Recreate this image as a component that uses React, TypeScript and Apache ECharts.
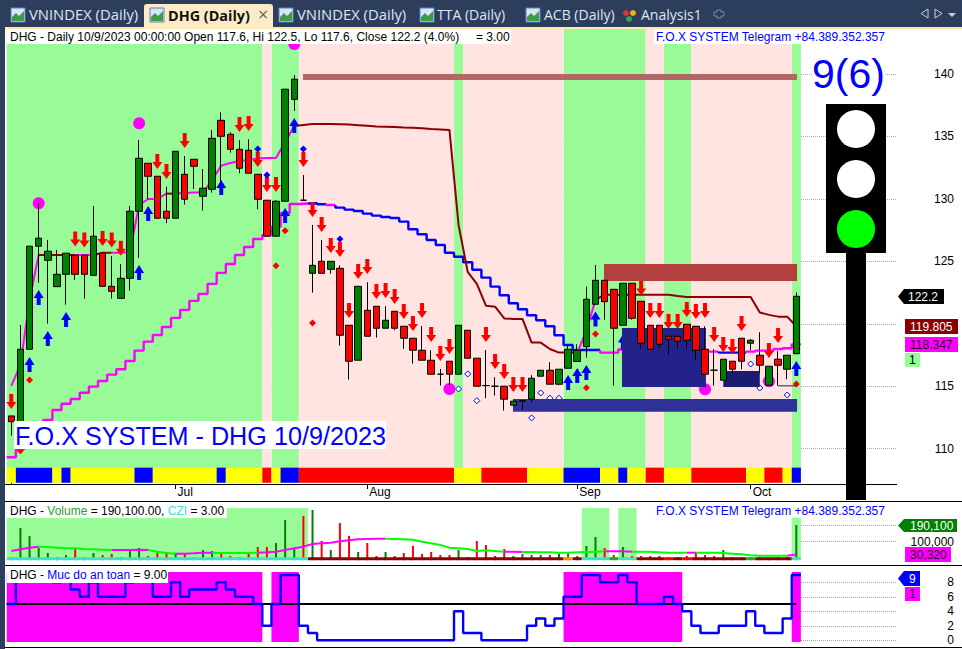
import React, { useEffect, useRef } from "react";
import * as echarts from "echarts";

// ---------- candles (bar index 0..86) ----------
const opens = [112.62,111.34,117.96,126.21,125.08,122.97,123.96,125.49,125.49,123.88,125.65,123.0,122.04,123.64,129.01,132.85,131.81,129.01,128.45,131.97,133.17,130.21,130.77,136.29,135.17,133.97,133.89,131.97,129.89,127.01,129.81,137.97,129.89,124.04,125.0,124.36,124.44,119.88,117.08,121.08,121.4,119.64,121.0,119.8,118.84,117.88,117.08,115.96,117.0,115.96,119.48,117.24,115.05,115.0,115.0,113.48,113.8,113.96,115.8,116.28,115.16,116.44,116.98,118.17,121.56,123.48,122.76,119.88,123.24,121.8,119.88,119.88,119.0,119.0,119.96,119.8,117.96,116.28,115.48,117.0,118.84,118.44,117.48,115.08,117.16,116.36,117.6];
const closes = [112.16,117.96,126.21,126.85,125.81,123.96,125.65,123.96,123.96,127.01,123.0,122.6,123.64,129.01,133.25,131.81,128.45,128.45,133.81,129.97,132.61,130.85,134.85,135.01,133.97,132.45,132.05,129.97,127.01,129.81,138.78,139.58,129.89,124.68,124.04,125.0,119.08,117.0,123.0,119.0,119.64,120.28,119.64,118.84,117.88,117.08,115.96,115.96,115.96,119.88,117.24,115.0,115.05,115.0,113.96,113.8,113.84,115.64,116.28,115.16,116.36,117.96,117.88,121.96,123.48,121.77,119.64,123.24,120.44,118.44,117.96,118.36,118.76,118.6,118.68,117.88,115.96,116.28,117.16,116.36,117.0,118.68,116.68,116.6,116.68,117.48,122.2];
const lows = [111.04,111.2,117.96,123.29,120.01,122.97,121.53,123.51,122.01,123.88,123.0,122.01,122.04,122.65,125.27,129.97,128.45,128.05,128.45,129.54,130.79,129.06,130.5,131.33,133.7,132.05,132.05,129.17,127.01,127.01,129.81,137.04,129.89,122.49,124.04,124.01,118.25,115.53,117.08,119.0,118.89,119.64,119.48,118.0,116.81,117.08,115.96,115.05,115.1,115.96,117.24,115.0,114.04,114.25,113.05,113.48,113.1,113.72,115.8,115.16,115.08,116.44,116.98,117.29,121.56,120.31,115.05,119.88,120.33,118.0,117.96,118.04,117.53,118.04,118.04,117.05,115.96,115.05,115.48,116.04,116.36,117.88,116.04,115.08,115.05,115.56,117.6];
const highs = [112.62,119.9,126.21,129.67,126.71,125.91,125.65,125.49,125.49,129.43,125.65,125.43,124.79,129.43,134.72,132.85,131.81,130.98,133.81,133.43,133.17,132.39,135.52,136.93,135.33,134.69,134.77,131.97,129.89,129.89,138.78,139.92,131.91,127.91,126.71,125.0,124.68,119.88,123.0,123.32,121.4,121.4,121.0,119.8,118.84,119.82,117.88,116.38,117.0,119.88,119.48,117.24,117.9,115.72,115.0,113.8,113.84,115.88,116.28,116.92,116.36,118.3,118.36,122.97,124.71,123.48,122.76,123.24,123.24,121.8,119.88,119.88,119.0,119.0,119.96,119.8,119.8,117.96,117.16,117.0,118.84,118.78,119.32,116.6,117.8,117.48,122.5];

// ---------- price-pane lines ----------
const stopLine = [109.31,109.98,110.94,111.66,112.3,113.1,113.6,113.98,114.48,114.97,115.42,115.93,116.36,117.02,117.85,118.57,119.1,119.74,120.47,121.11,121.83,122.39,123.19,124.07,124.79,125.51,126.15,126.79,127.11,127.77,128.87,129.59,129.63,129.65,129.57,129.51,129.3,129.14,129.03,128.82,128.66,128.55,128.47,128.18,127.57,127.17,126.71,126.31,125.69,125.37,124.92,124.33,123.69,122.97,122.28,121.64,121.16,120.68,120.28,119.8,119.08,118.3,117.9,117.9,117.9,117.69,117.69,117.94,118.0,118.0,117.95,117.9,117.85,117.8,117.8,117.75,117.77,117.77,117.69,117.69,117.69,117.77,117.85,117.85,117.98,118.04,118.347];
const stopRuns: [number, number, string][] = [[0,32,"#ff00ff"],[33,34,"#0000ff"],[35,35,"#ff00ff"],[36,64,"#0000ff"],[65,77,"#ff00ff"],[78,80,"#0000ff"],[81,86,"#ff00ff"]];
const trendLine = [115.02,116.7,121.91,125.51,125.51,125.51,125.51,125.51,125.51,125.51,125.69,125.69,125.69,125.75,129.51,129.99,129.99,130.42,130.42,130.47,130.5,130.5,131.51,132.66,132.87,133.03,133.11,133.23,133.27,133.27,134.56,135.84,135.92,136.0,136.0,136.0,135.98,135.95,135.9,135.85,135.8,135.78,135.75,135.72,135.7,135.65,135.6,135.56,135.52,127.91,124.15,123.19,121.45,121.37,120.43,120.39,120.39,118.49,118.49,117.98,117.69,117.69,117.69,119.42,121.91,122.33,122.33,122.33,122.33,122.33,122.33,122.33,122.33,122.23,122.15,122.15,122.15,122.15,122.15,122.15,122.15,122.15,120.9,120.71,120.57,120.57,119.805];
const trendRuns: [number, number, string][] = [[0,3,"#ff00ff"],[3,7,"#8b0000"],[7,9,"#ff00ff"],[9,11,"#8b0000"],[11,17,"#ff00ff"],[17,18,"#8b0000"],[18,31,"#ff00ff"],[31,62,"#8b0000"],[62,64,"#ff00ff"],[64,86,"#8b0000"]];

// ---------- signals: [bar, price] ----------
const sellArrows = [[0,113.78],[7,126.79],[8,126.71],[10,126.83],[11,126.71],[12,126.05],[16,132.99],[17,132.19],[19,134.68],[25,135.96],[26,136.04],[27,133.15],[28,131.15],[29,131.15],[32,133.15],[33,129.15],[34,127.95],[35,126.27],[36,125.95],[37,121.07],[38,124.19],[39,124.59],[40,122.59],[41,122.67],[42,122.19],[43,120.99],[44,120.02],[45,121.07],[46,119.14],[47,117.62],[48,118.18],[52,119.14],[53,116.98],[54,116.18],[55,115.14],[56,115.14],[69,122.87],[70,121.07],[71,121.07],[72,120.18],[73,120.18],[74,121.15],[75,120.99],[76,121.07],[77,119.14],[78,118.34],[79,118.18],[80,120.02],[83,117.86],[84,119.06]];
const buyArrows = [[2,116.74],[3,122.11],[4,118.82],[6,120.34],[14,124.11],[15,128.83],[23,130.91],[30,128.67],[31,135.88],[61,115.3],[62,115.86],[63,116.1],[64,120.38],[67,118.54],[86,116.42]];
const redDiamonds = [[1,109.84],[2,115.5],[29,124.65],[30,127.45],[33,120.07],[63,114.88],[64,119.18],[86,115.18]];
const blueDiamonds = [[27,133.99],[28,131.91],[32,133.99],[36,126.79]];
const hollowDiamonds = [[49,114.78],[50,115.98],[51,113.84],[57,112.46],[58,114.46],[59,114.04],[60,114.04],[81,116.78],[82,114.86],[85,114.3]];
const magentaDots = [[3,129.65],[14,136.05],[31,142.4],[48,114.78],[76,114.76],[83,115.4]];

// ---------- background runs: [fromBar, toBar) ----------
const greenRuns = [[0,28],[29,32],[49,50],[61,70],[72,75],[86,87]];
const pinkRuns = [[28,29],[32,49],[50,61],[70,72],[75,86]];
const stripRuns: [number, number, string][] = [[0,1,"#ffff00"],[1,5,"#0000ff"],[5,6,"#ffff00"],[6,7,"#0000ff"],[7,14,"#ffff00"],[14,16,"#0000ff"],[16,23,"#ffff00"],[23,24,"#0000ff"],[24,28,"#ffff00"],[28,29,"#ff0000"],[29,30,"#ffff00"],[30,32,"#0000ff"],[32,49,"#ff0000"],[49,52,"#ffff00"],[52,57,"#ff0000"],[57,61,"#ffff00"],[61,65,"#0000ff"],[65,67,"#ffff00"],[67,68,"#0000ff"],[68,70,"#ffff00"],[70,72,"#ff0000"],[72,75,"#ffff00"],[75,81,"#ff0000"],[81,83,"#ffff00"],[83,85,"#ff0000"],[85,86,"#ffff00"],[86,87,"#0000ff"]];
// support / resistance boxes: [fromX, toX, lowPrice, highPrice, colour]
const levelBoxes: [number, number, number, number, string][] = [[31.96,86.08,139.52,140,"#b36666"],[64.93,86.08,123.43,124.79,"#b33f3f"],[66.9,76.1,114.94,119.66,"#22228a"],[78,82,114.94,116.22,"#1b1b72"],[54.96,86.08,112.96,113.98,"#303099"],[84,86.08,114.99,115.07,"#1b1b72"]];

// ---------- volume pane (thousands of shares) ----------
const volumes = [17.3,174,130.8,66,38.9,17.3,28.1,60.5,17.3,38.9,28.1,33.5,17.3,49.7,66,22.7,38.9,44.3,38.9,33.5,17.3,55.1,49.7,38.9,22.7,17.3,33.5,71.4,71.4,93,217.3,60.5,239,271.4,103.8,55.1,201,130.8,44.3,93,22.7,44.3,22.7,38.9,76.8,33.5,44.3,28.1,28.1,55.1,17.3,103.8,82.2,22.7,60.5,22.7,33.5,28.1,28.1,28.1,33.5,35.3,22.7,76.8,125.4,66,28.1,71.4,22.7,22.7,22.7,22.7,17.3,17.3,22.7,38.9,28.1,22.7,55.1,17.3,17.3,15.5,17.3,13.7,17.3,17.3,190.1];
const volumeAvg = [49.7,58.7,67.8,73.2,71.4,67.8,64.2,64.2,60.5,58.7,56.9,55.1,55.1,55.1,56.9,55.1,46.1,38.9,35.3,35.3,37.1,40.7,40.7,38.9,38.9,38.9,38.9,40.7,42.5,46.1,55.1,64.2,73.2,87.6,91.2,94.8,102,107.4,112.8,114.6,116.4,116.4,114.6,112.8,111,100.2,91.2,82.2,67.8,64.2,60.5,49.7,53.3,49.7,46.1,46.1,44.3,44.3,42.5,42.5,40.7,40.7,42.5,44.3,46.1,47.9,47.9,47.9,46.1,46.1,46.1,42.5,40.7,40.7,40.7,40.7,40.7,40.7,38.9,35.3,31.7,26.3,24.5,24.5,24.5,24.5,30.32];
const volumeAvgRuns: [number, number, string][] = [[0,3,"#ff00ff"],[3,11,"#00ff00"],[11,15,"#ff00ff"],[15,18,"#00ff00"],[18,22,"#ff00ff"],[22,27,"#00ff00"],[27,41,"#ff00ff"],[41,54,"#00ff00"],[54,56,"#ff00ff"],[56,65,"#00ff00"],[65,68,"#ff00ff"],[68,74,"#00ff00"],[74,75,"#ff00ff"],[75,85,"#00ff00"],[85,86,"#ff00ff"]];
const volumeGreenRuns = [[0,33],[63,66],[67,69]];
const volumeStripRuns: [number, number, string][] = [[0,33,"#40e0d0"],[33,61,"#8b0000"],[61,62,"#ff8c00"],[62,63,"#8b0000"],[63,66,"#40e0d0"],[66,67,"#22aa22"],[67,69,"#40e0d0"],[69,72,"#8b0000"],[72,73,"#ff0000"],[73,74,"#8b0000"],[74,75,"#ff0000"],[75,81,"#8b0000"],[81,82,"#22aa22"],[82,86,"#8b0000"],[86,87,"#40e0d0"]];

// ---------- safety pane ----------
const safety = [5,9,9,9,9,8,9,7,6,8,6,6,6,8,9,9,6,6,8,6,7,7,7,8,7,6,6,5,2,5,9,9,2,1,0,0,0,0,0,0,0,0,0,0,0,0,0,0,0,4,1,1,0,0,0,0,0,2,3,2,3,6,6,9,9,8,8,9,8,5,5,5,6,5,4,2,1,1,2,2,2,4,2,1,1,3,9];
const safetyRuns = [[0,28],[29,32],[61,74],[86,87]];
const safetyLevel = 5;

// ---------- axes ----------
const monthTicks = [18, 39, 62, 81];
const monthNames = ["Jul", "Aug", "Sep", "Oct"];
const priceTicks = [110, 115, 120, 125, 130, 135, 140];
const priceLabels = [110, 115, 125, 130, 135, 140];
const volumeTicks = [100000, 190100];
const safetyTicks = [0, 2, 4, 6, 8];

const FONT = '"Liberation Sans", Arial, sans-serif';
const TAB_FONT = '"Open Sans", "Noto Sans", sans-serif';
const X_MIN = -0.471;
const X_MAX = 97.03;

const bands = (name: string, idx: number, z: number, rows: any[]) => ({
  type: "custom",
  name,
  xAxisIndex: idx,
  yAxisIndex: idx,
  z,
  clip: false,
  silent: true,
  renderItem: (params: any, api: any) => {
    const a = api.coord([api.value(0), api.value(3)]);
    const b = api.coord([api.value(1), api.value(2)]);
    return {
      type: "rect",
      shape: { x: a[0], y: a[1], width: b[0] - a[0], height: b[1] - a[1] },
      style: { fill: rows[params.dataIndex].fill },
      silent: true,
    };
  },
  encode: { x: [0, 1], y: [2, 3] },
  data: rows.map((r) => r.value),
});
const row = (from: number, to: number, lo: number, hi: number, fill: string) => ({
  value: [from - 0.5, to - 0.5, lo, hi],
  fill,
});
const rawRow = (from: number, to: number, lo: number, hi: number, fill: string) => ({
  value: [from, to, lo, hi],
  fill,
});
const colored = (name: string, values: number[], runs: [number, number, string][], idx: number, width: number, z: number) =>
  runs.map(([s, e, c]) => ({
    type: "line",
    name,
    xAxisIndex: idx,
    yAxisIndex: idx,
    z,
    showSymbol: false,
    symbol: "none",
    silent: true,
    lineStyle: { color: c, width },
    data: values.slice(s, e + 1).map((v, i) => [s + i, v]),
  }));
const stepped = (name: string, values: number[], runs: [number, number, string][], idx: number, z: number) =>
  runs.map(([s, e, c]) => {
    const pts: number[][] = [[s - 0.5, s > 0 ? values[s - 1] : values[s]]];
    for (let k = s; k <= e; k++) pts.push([k + 0.5, values[k]]);
    return {
      type: "line",
      name,
      step: "start",
      xAxisIndex: idx,
      yAxisIndex: idx,
      z,
      showSymbol: false,
      symbol: "none",
      silent: true,
      lineStyle: { color: c, width: 2.4 },
      data: pts,
    };
  });
const markers = (name: string, data: number[][], symbol: string, size: any, color: string, z: number, border?: string) => ({
  type: "scatter",
  name,
  xAxisIndex: 0,
  yAxisIndex: 0,
  z,
  silent: true,
  symbol,
  symbolSize: size,
  itemStyle: { color, opacity: 1, borderColor: border ?? color, borderWidth: border ? 1 : 0 },
  data,
});

const ARROW_DOWN = "path://M3 0H7V8H10L5 15L0 8H3Z";
const ARROW_UP = "path://M5 0L10 8H7V15H3V8H0Z";

const txt = (text: string, x: number, y: number, fill: string, extra: any = {}) => ({
  type: "text",
  z: 100,
  x,
  y,
  style: { text, fill, font: `12px ${FONT}`, textVerticalAlign: "middle", ...extra },
});
const box = (x: number, y: number, w: number, h: number, fill: string, z = 99, r?: any) => ({
  type: "rect",
  z,
  shape: { x, y, width: w, height: h, ...(r ? { r } : {}) },
  style: { fill },
});
const hline = (x1: number, x2: number, y: number, w = 1, color = "#000") => ({
  type: "line",
  z: 98,
  shape: { x1, y1: y, x2, y2: y },
  style: { stroke: color, lineWidth: w },
});
const tagArrow = (x: number, top: number, right: number, bottom: number, tip: number, fill: string) => ({
  type: "polygon",
  z: 99,
  shape: { points: [[tip, (top + bottom) / 2], [x, top], [right, top], [right, bottom], [x, bottom]] },
  style: { fill },
});
const chartIcon = (x: number) => [
  box(x, 8, 14, 14, "#d8e6f8", 99),
  { type: "polygon", z: 100, shape: { points: [[x + 1, 21], [x + 1, 17], [x + 5, 13], [x + 8, 16], [x + 13, 11], [x + 13, 21]] }, style: { fill: "#3f9a4a" } },
  { type: "rect", z: 100, shape: { x, y: 8, width: 14, height: 14 }, style: { fill: "none", stroke: "#5a7fb5", lineWidth: 1 } },
];

const tabText = (t: string, x: number, size = 14) => txt(t, x, 14, "#dfe6f2", { font: `${size}px ${TAB_FONT}` });
const foxNote = "F.O.X SYSTEM Telegram +84.389.352.357";

const graphics: any[] = [
  // window chrome
  box(0, 0, 962, 27, "#2d3e5c", 90),
  box(0, 27, 962, 2, "#ffe8a8", 90),
  box(0, 27, 5, 622, "#2d3e5c", 90),
  box(144, 4, 129, 24, "#fdebc8", 91, [3, 3, 0, 0]),
  ...chartIcon(11),
  tabText("VNINDEX (Daily)", 29, 14.8),
  ...chartIcon(150),
  txt("DHG (Daily)", 168, 15, "#111111", { font: `bold 14.4px ${TAB_FONT}` }),
  txt("×", 258, 14, "#666666", { font: `18px ${TAB_FONT}` }),
  ...chartIcon(279),
  tabText("VNINDEX (Daily)", 297, 14.8),
  ...chartIcon(420),
  tabText("TTA (Daily)", 437),
  ...chartIcon(526),
  tabText("ACB (Daily)", 544),
  { type: "circle", z: 100, shape: { cx: 626, cy: 13, r: 3 }, style: { fill: "#e03030" } },
  { type: "circle", z: 100, shape: { cx: 633, cy: 13, r: 3 }, style: { fill: "#e8b020" } },
  { type: "circle", z: 100, shape: { cx: 629, cy: 19, r: 3 }, style: { fill: "#40a040" } },
  tabText("Analysis1", 641),
  { type: "polygon", z: 100, shape: { points: [[717, 10], [721, 10], [721, 12], [724, 12], [724, 16], [721, 16], [721, 18], [717, 18], [717, 16], [714, 16], [714, 12], [717, 12]] }, style: { fill: "none", stroke: "#7d8aa0", lineWidth: 1 } },
  { type: "polygon", z: 100, shape: { points: [[928, 9], [928, 18], [921, 13.5]] }, style: { fill: "none", stroke: "#c8d0dc", lineWidth: 1 } },
  { type: "polygon", z: 100, shape: { points: [[935, 9], [935, 18], [942, 13.5]] }, style: { fill: "none", stroke: "#c8d0dc", lineWidth: 1 } },
  { type: "polygon", z: 100, shape: { points: [[948, 13], [956, 13], [952, 17]] }, style: { fill: "#c8d0dc" } },

  // pane frame
  hline(5, 897, 484.5),
  hline(5, 962, 501.5),
  hline(5, 962, 565.5),
  hline(5, 962, 647.5),

  // header of each pane
  box(7, 29, 504, 15, "#ffffff"),
  txt("DHG - Daily 10/9/2023 00:00:00 Open 117.6, Hi 122.5, Lo 117.6, Close 122.2 (4.0%)", 10, 36.5, "#000000"),
  txt("= 3.00", 476, 36.5, "#000000"),
  box(654, 29, 235, 15, "#ffffff"),
  txt(foxNote, 656, 36.5, "#0000ff"),
  box(7, 503, 220, 15, "#ffffff"),
  {
    type: "text",
    z: 100,
    x: 10,
    y: 510.5,
    style: {
      text: "{k|DHG - }{g|Volume}{k| = 190,100.00, }{c|CZI}{k| = 3.00}",
      font: `12px ${FONT}`,
      textVerticalAlign: "middle",
      rich: {
        k: { fill: "#000000", font: `12px ${FONT}` },
        g: { fill: "#2e9a2e", font: `12px ${FONT}` },
        c: { fill: "#40e0d0", font: `12px ${FONT}` },
      },
    },
  },
  txt(foxNote, 656, 510.5, "#0000ff"),
  box(7, 568, 161, 15, "#ffffff"),
  {
    type: "text",
    z: 100,
    x: 10,
    y: 575,
    style: {
      text: "{k|DHG - }{b|Muc do an toan}{k| = 9.00}",
      font: `12px ${FONT}`,
      textVerticalAlign: "middle",
      rich: {
        k: { fill: "#000000", font: `12px ${FONT}` },
        b: { fill: "#0000ff", font: `12px ${FONT}` },
      },
    },
  },
  box(14, 421, 372, 28, "#ffffff"),
  txt("F.O.X SYSTEM - DHG 10/9/2023", 15, 435.5, "#0000ff", { font: `25.2px ${FONT}` }),

  // traffic light
  box(812, 54, 73, 44, "#ffffff"),
  txt("9(6)", 812, 74, "#0000ff", { font: `41px ${FONT}` }),
  box(846, 253, 20, 247, "#000000"),
  box(826, 104, 60, 149, "#000000"),
  { type: "circle", z: 100, shape: { cx: 856, cy: 129, r: 19 }, style: { fill: "#ffffff" } },
  { type: "circle", z: 100, shape: { cx: 856, cy: 179, r: 19 }, style: { fill: "#ffffff" } },
  { type: "circle", z: 100, shape: { cx: 856, cy: 229, r: 19 }, style: { fill: "#00ff00" } },

  // value tags
  tagArrow(904, 289, 944, 304, 898, "#000000"),
  txt("122.2", 908, 296.5, "#ffffff"),
  box(905, 319, 53, 15, "#8b0000"),
  txt("119.805", 910, 326.5, "#ffffff"),
  box(905, 337, 53, 15, "#ff00ff"),
  txt("118.347", 910, 344.5, "#330033"),
  box(905, 353, 15, 14, "#98fb98"),
  txt("1", 909, 360, "#000000"),
  tagArrow(904, 519, 957, 532, 898, "#008000"),
  txt("190,100", 910, 525.5, "#ffffff"),
  box(905, 547, 46, 15, "#ff00ff"),
  txt("30,320", 910, 554.5, "#330033"),
  tagArrow(904, 571, 920, 586, 898, "#0000ff"),
  txt("9", 909, 578.5, "#ffffff"),
  box(905, 587, 15, 14, "#ff00ff"),
  txt("1", 909, 594, "#330033"),
];

const tickOpts = (values: number[]) => ({ show: true, length: 4, customValues: values, lineStyle: { color: "#000" } });
const yAxisBase = {
  type: "value",
  position: "right",
  axisLine: { show: true, lineStyle: { color: "#000" } },
  splitLine: { show: true, lineStyle: { color: "#aaaaaa", type: "dotted", width: 1 } },
};
const yLabel = (values: number[], formatter?: any) => ({
  show: true,
  customValues: values,
  align: "right",
  margin: 57,
  color: "#000",
  fontFamily: FONT,
  fontSize: 12,
  ...(formatter ? { formatter } : {}),
});

export default function App() {
  const ref = useRef<HTMLDivElement>(null);
  useEffect(() => {
    document.body.style.margin = "0";
    const chart = echarts.init(ref.current!, undefined, { renderer: "svg" });
    const candles = opens.map((o, i) => [i, o, closes[i], lows[i], highs[i]]);
    const volBars = volumes.map((v, i) => ({
      value: [i, v * 1000],
      itemStyle: { color: closes[i] > opens[i] ? "#008000" : "#ff0000" },
    }));
    const volumeAvgShares = volumeAvg.map((v) => v * 1000);
    const option: any = {
      animation: false,
      backgroundColor: "#ffffff",
      grid: [
        { left: 7, width: 890, top: 29, height: 455 },
        { left: 7, width: 890, top: 501, height: 64 },
        { left: 7, width: 890, top: 565, height: 82 },
      ],
      xAxis: [
        {
          type: "value",
          gridIndex: 0,
          min: X_MIN,
          max: X_MAX,
          axisLine: { show: false },
          splitLine: { show: false },
          axisTick: { show: true, length: 5, customValues: monthTicks, lineStyle: { color: "#000" } },
          axisLabel: {
            show: true,
            customValues: monthTicks,
            align: "left",
            margin: 2,
            padding: [0, 0, 0, 2],
            color: "#000",
            fontFamily: FONT,
            fontSize: 12,
            formatter: (v: number) => monthNames[monthTicks.indexOf(Math.round(v))] ?? "",
          },
        },
        { type: "value", gridIndex: 1, min: X_MIN, max: X_MAX, show: false, splitLine: { show: false } },
        { type: "value", gridIndex: 2, min: X_MIN, max: X_MAX, show: false, splitLine: { show: false } },
      ],
      yAxis: [
        { ...yAxisBase, gridIndex: 0, min: 107.17, max: 143.6, axisTick: tickOpts(priceTicks), axisLabel: yLabel(priceLabels) },
        {
          ...yAxisBase,
          gridIndex: 1,
          min: -25946,
          max: 320000,
          axisTick: tickOpts(volumeTicks),
          axisLabel: yLabel([100000], (v: number) => Math.round(v).toLocaleString("en-US")),
        },
        { ...yAxisBase, gridIndex: 2, min: -0.924, max: 10.386, axisTick: tickOpts(safetyTicks), axisLabel: yLabel(safetyTicks) },
      ],
      series: [
        bands("Trend zones", 0, 1, [
          ...greenRuns.map(([a, b]) => row(a, b, 107.27, 143.6, "#98fb98")),
          ...pinkRuns.map(([a, b]) => row(a, b, 107.27, 143.6, "#ffe4e1")),
        ]),
        bands("State strip", 0, 1, stripRuns.map(([a, b, c]) => row(a, b, 107.27, 108.48, c))),
        ...stepped("Trailing stop", stopLine, stopRuns, 0, 3),
        ...colored("Trend", trendLine, trendRuns, 0, 2, 3),
        markers("Magenta dots", magentaDots, "circle", 12, "#ff00ff", 4),
        markers("Buy", buyArrows, ARROW_UP, [10, 15], "#0000ff", 4),
        markers("Sell", sellArrows, ARROW_DOWN, [10, 15], "#ff0000", 4),
        markers("Red marks", redDiamonds, "diamond", 7, "#ff0000", 4),
        markers("Blue marks", blueDiamonds, "diamond", 7, "#0000ff", 4),
        markers("Hollow marks", hollowDiamonds, "diamond", 6, "#ffffff", 4, "#0000ff"),
        bands("Levels", 0, 5, levelBoxes.map(([a, b, lo, hi, c]) => rawRow(a, b, lo, hi, c))),
        {
          type: "candlestick",
          name: "DHG",
          xAxisIndex: 0,
          yAxisIndex: 0,
          z: 6,
          barWidth: 7,
          silent: true,
          itemStyle: { color: "#008000", color0: "#ff0000", borderColor: "#000", borderColor0: "#000", borderColorDoji: "#000", borderWidth: 1 },
          data: candles,
        },

        bands("Volume white", 1, 1, [rawRow(X_MIN, 86.5, -25946, 320000, "#ffffff")]),
        bands("Volume zones", 1, 1, [
          ...volumeGreenRuns.map(([a, b]) => row(a, b, 11892, 282162, "#98fb98")),
          row(86, 87, 11892, 229730, "#98fb98"),
        ]),
        { type: "bar", name: "Volume", xAxisIndex: 1, yAxisIndex: 1, z: 2, barWidth: 2, silent: true, data: volBars },
        bands("Volume strip", 1, 3, volumeStripRuns.map(([a, b, c]) => row(a, b, 0, 16000, c))),
        ...colored("Volume average", volumeAvgShares, volumeAvgRuns, 1, 2, 4),

        bands("Safety white", 2, 1, [rawRow(X_MIN, 86.5, -0.924, 10.386, "#ffffff")]),
        bands("Safety zones", 2, 1, safetyRuns.map(([a, b]) => row(a, b, -0.23, 9.42, "#ff00ff"))),
        {
          type: "line",
          name: "Threshold",
          xAxisIndex: 2,
          yAxisIndex: 2,
          z: 3,
          symbol: "none",
          silent: true,
          lineStyle: { color: "#000", width: 2 },
          data: [[-0.5, safetyLevel], [86, safetyLevel]],
        },
        ...stepped("Muc do an toan", safety, [[0, 86, "#0000ff"]], 2, 4),
      ],
      graphic: { elements: graphics },
    };
    chart.setOption(option);
    return () => chart.dispose();
  }, []);
  return <div ref={ref} style={{ position: "absolute", left: 0, top: 0, width: 962, height: 649 }} />;
}
